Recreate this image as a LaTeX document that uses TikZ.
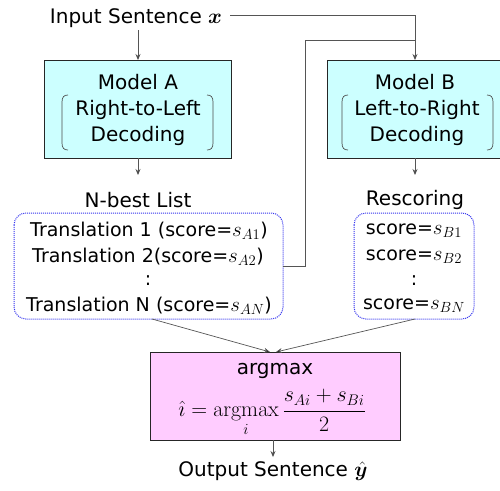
\documentclass[tikz,border=0pt]{standalone}
\usepackage{fix-cm}
\usepackage{amsmath}
\usepackage{bm}
\usepackage[no-math]{fontspec}
\setmainfont{DejaVu Sans}
\usetikzlibrary{arrows.meta}
\definecolor{cyanfill}{HTML}{CCFFFF}
\definecolor{pinkfill}{HTML}{FFCCFF}
\definecolor{dotblue}{HTML}{3333EE}
\definecolor{linegray}{HTML}{555555}
\newcommand{\mymath}[1]{{\fontsize{21}{23}\selectfont$#1$}}
\tikzset{
  big/.style={font=\fontsize{20}{24}\selectfont, inner sep=0pt},
  lst/.style={font=\fontsize{19}{23}\selectfont, inner sep=0pt},
  modelbox/.style={draw=black!85, line width=1pt, fill=cyanfill},
  argbox/.style={draw=black!85, line width=1pt, fill=pinkfill},
  dotbox/.style={draw=dotblue, densely dotted, line width=1pt, rounded corners=12pt},
  conn/.style={draw=linegray, line width=0.7pt},
  arr/.style={conn, -{Stealth[length=6pt,width=5pt,fill=black]}},
  brk/.style={draw=black!70, line width=0.7pt},
}
\begin{document}
\begin{tikzpicture}[x=1pt,y=-1pt]
\useasboundingbox (0,0) rectangle (500,490);
% boxes
\path[modelbox] (44,60) rectangle (231,158);
\path[modelbox] (327,60) rectangle (503,158);
\path[argbox] (150,352) rectangle (400,440);
\path[dotbox] (14,213) rectangle (283,319);
\path[dotbox] (354,213) rectangle (474,319);
% brackets
\draw[brk] (68,95) .. controls (64,95) and (62,97) .. (62,102) -- (62,143) .. controls (62,148) and (64,150) .. (68,150);
\draw[brk] (207,95) .. controls (211,95) and (213,97) .. (213,102) -- (213,143) .. controls (213,148) and (211,150) .. (207,150);
\draw[brk] (348,95) .. controls (344,95) and (342,97) .. (342,102) -- (342,143) .. controls (342,148) and (344,150) .. (348,150);
\draw[brk] (487,95) .. controls (491,95) and (493,97) .. (493,102) -- (493,143) .. controls (493,148) and (491,150) .. (487,150);
% texts
\node[big] (input) at (136,18) {Input Sentence \mymath{\bm{x}}};
\node[big] (ma) at (138,82) {Model A};
\node[big] (ma1) at (138,110) {Right-to-Left};
\node[big] (ma2) at (138,136) {Decoding};
\node[big] (mb) at (415,82) {Model B};
\node[big] (mb1) at (417,110) {Left-to-Right};
\node[big] (mb2) at (417,136) {Decoding};
\node[big] (nbl) at (138,200) {N-best List};
\node[big] (res) at (415,200) {Rescoring};
\node[lst] (t1) at (149,231) {Translation 1 (score=\mymath{s_{A1}})};
\node[lst] (t2) at (148,257) {Translation 2(score=\mymath{s_{A2}})};
\node[lst] (td) at (148,281) {:};
\node[lst] (tn) at (149,306) {Translation N (score=\mymath{s_{AN}})};
\node[lst] (r1) at (414,231) {score=\mymath{s_{B1}}};
\node[lst] (r2) at (414,257) {score=\mymath{s_{B2}}};
\node[lst] (rd) at (414,281) {:};
\node[lst] (rn) at (414,306) {score=\mymath{s_{BN}}};
\node[big] (am) at (275,371) {argmax};
\node[inner sep=0pt, font=\fontsize{22}{26}\selectfont] (form) at (272,413) {$\displaystyle \hat{\imath} = \operatorname*{argmax}_{i} \frac{s_{Ai}+s_{Bi}}{2}$};
\node[big] (out) at (273,471) {Output Sentence \mymath{\hat{\bm{y}}}};
% coordinates
\coordinate (inA) at (138,30);
\coordinate (Atop) at (138,60);
\coordinate (Abot) at (138,158);
\coordinate (Aarr) at (138,175);
\coordinate (inR) at (230,15);
\coordinate (Bcorner) at (415,15);
\coordinate (Btop) at (415,60);
\coordinate (Bbot) at (415,158);
\coordinate (Barr) at (415,175);
\coordinate (nbR) at (283,266);
\coordinate (j1) at (305,266);
\coordinate (j2) at (305,40);
\coordinate (j3) at (415,40);
\coordinate (nbB) at (152,319);
\coordinate (rsB) at (415,319);
\coordinate (argL) at (270,352);
\coordinate (argR) at (276,352);
\coordinate (argB) at (273,440);
\coordinate (outT) at (273,457);
% connectors
\draw[arr] (inA) -- (Atop);
\draw[conn] (inR) -- (Bcorner);
\draw[arr] (Bcorner) -- (Btop);
\draw[arr] (Abot) -- (Aarr);
\draw[arr] (Bbot) -- (Barr);
\draw[conn] (nbR) -- (j1) -- (j2) -- (j3);
\draw[arr] (nbB) -- (argL);
\draw[arr] (rsB) -- (argR);
\draw[arr] (argB) -- (outT);
\end{tikzpicture}
\end{document}
